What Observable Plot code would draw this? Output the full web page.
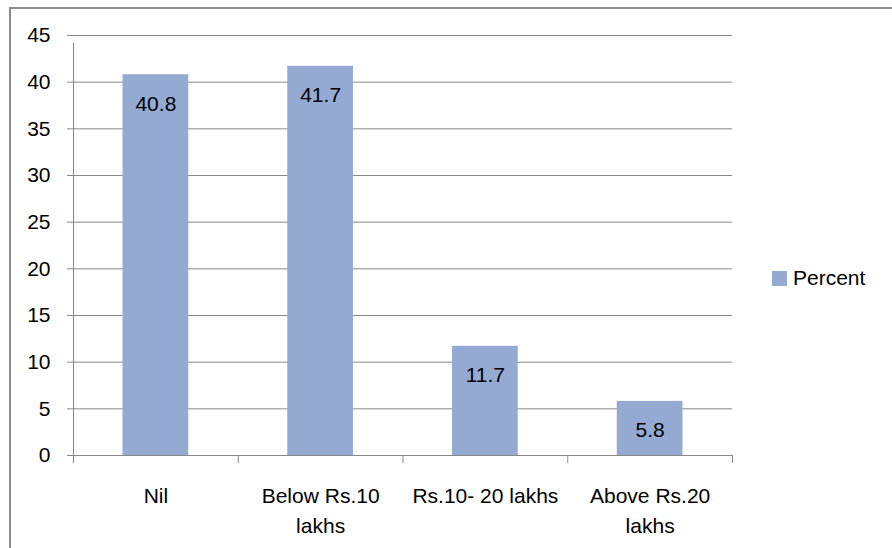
<!DOCTYPE html>
<html>
<head>
<meta charset="utf-8">
<script src="https://cdn.jsdelivr.net/npm/d3@7"></script>
<script src="https://cdn.jsdelivr.net/npm/@observablehq/plot@0.6"></script>
<style>
  html, body { margin: 0; padding: 0; background: #fff; }
  #wrap { position: relative; width: 892px; height: 548px; overflow: hidden; font-family: "Liberation Sans", Arial, sans-serif; }
  #frame { position: absolute; left: 9px; top: 7px; width: 1000px; height: 1000px; border-left: 2px solid #8c8c8c; border-top: 2px solid #8c8c8c; box-sizing: border-box; }
  #legend { position: absolute; left: 772px; top: 266px; font-size: 21px; color: #000; display: flex; align-items: center; }
  #legend .sw { width: 15px; height: 15px; background: #94AAD3; margin-right: 6px; }
  #chart { position: absolute; left: 0; top: 0; }
</style>
</head>
<body>
<div id="wrap">
  <div id="frame"></div>
  <div id="chart"></div>
  <div id="legend"><div class="sw"></div><span>Percent</span></div>
</div>
<script>
const categories = ["Nil", "Below Rs.10\nlakhs", "Rs.10- 20 lakhs", "Above Rs.20\nlakhs"];
const percent = [40.8, 41.7, 11.7, 5.8];
const yTicks = [0, 5, 10, 15, 20, 25, 30, 35, 40, 45];

const data = categories.map((c, i) => ({ cat: c, i, value: percent[i] }));
const edges = d3.range(categories.length + 1);

const chart = Plot.plot({
  width: 892,
  height: 548,
  marginLeft: 73,
  marginRight: 160,
  marginTop: 35,
  marginBottom: 93,
  style: { fontFamily: "Liberation Sans, Arial, sans-serif", fontSize: "21px", background: "transparent", color: "#000" },
  x: { type: "linear", domain: [0, categories.length], axis: null },
  y: { domain: [0, 45], axis: null },
  marks: [
    Plot.ruleY(yTicks, { stroke: "#888", strokeWidth: 1, x1: 0, x2: categories.length, insetLeft: -6 }),
    Plot.axisY({ ticks: yTicks, tickSize: 0, tickPadding: 23, fontSize: 21, label: null }),
    Plot.rectY(data, { x1: "i", x2: d => d.i + 1, y: "value", fill: "#94AAD3", insetLeft: 49.5, insetRight: 49.5 }),
    Plot.ruleX([0], { y1: 0, y2: 45, stroke: "#888", strokeWidth: 1, insetBottom: -8 }),
    Plot.ruleX(edges, { y1: 0, y2: 0, stroke: "#888", strokeWidth: 1, insetBottom: -8 }),
    Plot.text(data, { x: d => d.i + 0.5, y: "value", text: d => d.value.toFixed(1), lineAnchor: "top", dy: 21, fontSize: 21, fill: "#000" }),
    Plot.text(data, { x: d => d.i + 0.5, y: 0, text: "cat", lineAnchor: "top", dy: 26, lineHeight: 1.43, fontSize: 21, fill: "#000" })
  ]
});
document.getElementById("chart").appendChild(chart);
</script>
</body>
</html>
